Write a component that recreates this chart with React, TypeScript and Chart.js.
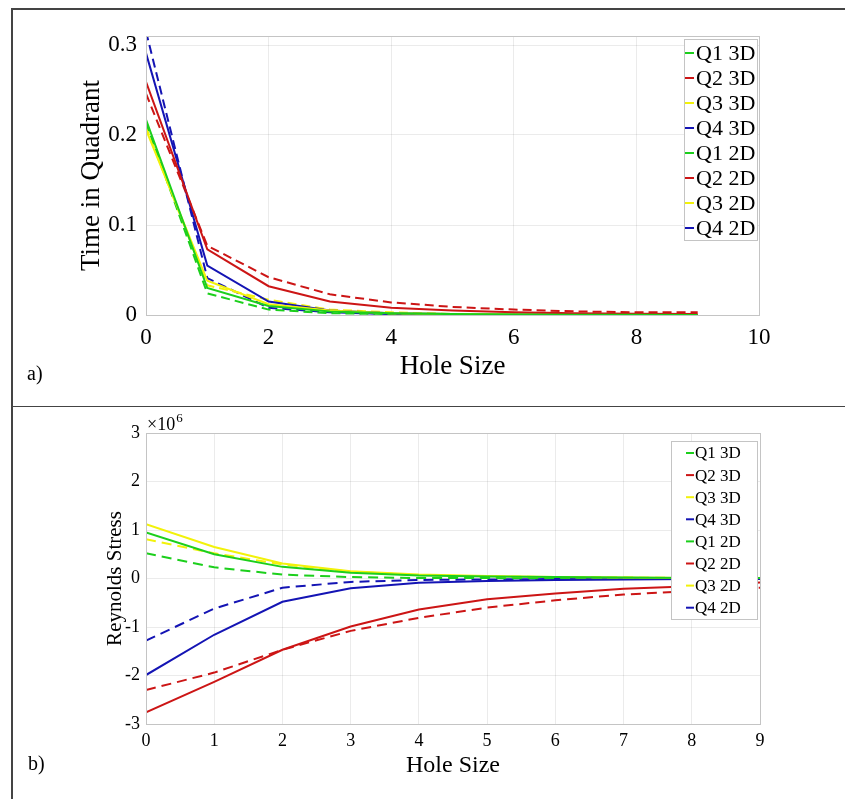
import React, { useEffect, useRef } from "react";
import { Chart, registerables } from "chart.js";

Chart.register(...registerables);

// ---------- data ----------
const holeSizes = [0, 1, 2, 3, 4, 5, 6, 7, 8, 9];
const seriesLabels = ["Q1 3D", "Q2 3D", "Q3 3D", "Q4 3D", "Q1 2D", "Q2 2D", "Q3 2D", "Q4 2D"];
const seriesColors = ["#1ccf1c", "#cc1515", "#f2f20a", "#1414b4", "#1ccf1c", "#cc1515", "#f2f20a", "#1414b4"];
const seriesDashed = [false, false, false, false, true, true, true, true];

// panel a) time in quadrant
const timeQ1_3D = [0.217, 0.030, 0.010, 0.004, 0.002, 0.001, 0.0005, 0.0003, 0.0002, 0.0001];
const timeQ2_3D = [0.259, 0.073, 0.032, 0.015, 0.008, 0.005, 0.003, 0.002, 0.0015, 0.001];
const timeQ3_3D = [0.206, 0.038, 0.012, 0.005, 0.002, 0.001, 0.0006, 0.0004, 0.0002, 0.0001];
const timeQ4_3D = [0.291, 0.055, 0.015, 0.005, 0.002, 0.001, 0.0005, 0.0003, 0.0002, 0.0001];
const timeQ1_2D = [0.214, 0.024, 0.006, 0.002, 0.001, 0.0005, 0.0003, 0.0002, 0.0001, 0.0001];
const timeQ2_2D = [0.246, 0.077, 0.042, 0.023, 0.014, 0.009, 0.006, 0.004, 0.003, 0.003];
const timeQ3_2D = [0.209, 0.033, 0.017, 0.006, 0.003, 0.001, 0.0006, 0.0004, 0.0002, 0.0001];
const timeQ4_2D = [0.315, 0.041, 0.008, 0.003, 0.001, 0.0005, 0.0003, 0.0002, 0.0001, 0.0001];

// panel b) Reynolds stress (x 10^6)
const stressQ1_3D = [0.95, 0.50, 0.24, 0.12, 0.06, 0.04, 0.03, 0.02, 0.01, 0.01];
const stressQ2_3D = [-2.76, -2.13, -1.47, -0.99, -0.64, -0.43, -0.31, -0.21, -0.16, -0.08];
const stressQ3_3D = [1.12, 0.65, 0.31, 0.15, 0.08, 0.05, 0.03, 0.02, 0.01, 0.01];
const stressQ4_3D = [-1.99, -1.16, -0.48, -0.20, -0.09, -0.05, -0.03, -0.02, -0.01, -0.01];
const stressQ1_2D = [0.52, 0.23, 0.08, 0.03, 0.01, 0.01, 0.0, 0.0, 0.0, 0.0];
const stressQ2_2D = [-2.30, -1.94, -1.47, -1.08, -0.81, -0.60, -0.45, -0.33, -0.26, -0.19];
const stressQ3_2D = [0.81, 0.52, 0.29, 0.14, 0.07, 0.04, 0.03, 0.02, 0.01, 0.01];
const stressQ4_2D = [-1.28, -0.62, -0.19, -0.07, -0.03, -0.02, -0.01, -0.01, 0.0, 0.0];

const timeSeries = [timeQ1_3D, timeQ2_3D, timeQ3_3D, timeQ4_3D, timeQ1_2D, timeQ2_2D, timeQ3_2D, timeQ4_2D];
const stressSeries = [stressQ1_3D, stressQ2_3D, stressQ3_3D, stressQ4_3D, stressQ1_2D, stressQ2_2D, stressQ3_2D, stressQ4_2D];

const FONT = "'Liberation Serif', 'Times New Roman', serif";

// ---------- plugins ----------
const boxLegendPlugin = {
  id: "boxLegend",
  afterDraw(chart: any, _args: any, opts: any) {
    const { ctx, chartArea } = chart;
    ctx.save();
    // axes box
    ctx.strokeStyle = "#c4c4c4";
    ctx.lineWidth = 1;
    ctx.strokeRect(chartArea.left + 0.5, chartArea.top + 0.5, chartArea.right - chartArea.left, chartArea.bottom - chartArea.top);

    // legend
    const L = opts.legend;
    if (L) {
      const bx = chartArea.right - L.right - L.width;
      const by = chartArea.top + L.top;
      ctx.fillStyle = "#ffffff";
      ctx.fillRect(bx, by, L.width, L.height);
      ctx.strokeStyle = "#c4c4c4";
      ctx.lineWidth = 1;
      ctx.strokeRect(bx + 0.5, by + 0.5, L.width, L.height);
      ctx.font = `${L.fontSize}px ${FONT}`;
      ctx.textBaseline = "middle";
      ctx.textAlign = "left";
      chart.data.datasets.forEach((ds: any, i: number) => {
        const cy = by + L.first + i * L.spacing;
        ctx.strokeStyle = ds.borderColor;
        ctx.lineWidth = 2;
        ctx.setLineDash([]);
        ctx.beginPath();
        ctx.moveTo(bx + L.sampleLeft, cy);
        ctx.lineTo(bx + L.sampleLeft + L.sampleLen, cy);
        ctx.stroke();
        ctx.fillStyle = "#000000";
        ctx.fillText(ds.label, bx + L.textLeft, cy + 1);
      });
    }

    // exponent
    if (opts.exponent) {
      ctx.fillStyle = "#000";
      ctx.textBaseline = "alphabetic";
      ctx.textAlign = "left";
      ctx.font = `18px ${FONT}`;
      const ex = chartArea.left + 1;
      const ey = chartArea.top - 3;
      ctx.fillText("\u00d710", ex, ey);
      const w = ctx.measureText("\u00d710").width;
      ctx.font = `13px ${FONT}`;
      ctx.fillText(opts.exponent, ex + w + 1, ey - 8);
    }

    // panel label
    if (opts.panel) {
      ctx.fillStyle = "#000";
      ctx.font = `20px ${FONT}`;
      ctx.textBaseline = "middle";
      ctx.textAlign = "left";
      ctx.fillText(opts.panel.text, opts.panel.x, opts.panel.y);
    }
    ctx.restore();
  },
};

function buildDatasets(series: number[][], dash: number[], width: number) {
  return series.map((vals, i) => ({
    label: seriesLabels[i],
    data: holeSizes.map((x, j) => ({ x, y: vals[j] })),
    borderColor: seriesColors[i],
    backgroundColor: seriesColors[i],
    borderWidth: width,
    borderDash: seriesDashed[i] ? dash : [],
    pointRadius: 0,
    tension: 0,
    fill: false,
  }));
}

const gridColor = "rgba(0,0,0,0.08)";

function TopChart() {
  const ref = useRef<HTMLCanvasElement>(null);
  useEffect(() => {
    const chart = new Chart(ref.current!, {
      type: "line",
      data: { datasets: buildDatasets(timeSeries, [9, 5], 2) as any },
      options: {
        animation: false,
        responsive: false,
        events: [],
        layout: { padding: { top: 36, right: 86, left: 0, bottom: 0 } },
        plugins: {
          legend: { display: false },
          tooltip: { enabled: false },
          boxLegend: {
            legend: { right: 2, top: 3, width: 73, height: 201, first: 14, spacing: 25, sampleLeft: 1, sampleLen: 9, textLeft: 12, fontSize: 22 },
            panel: { text: "a)", x: 27, y: 375 },
          },
        } as any,
        scales: {
          x: {
            type: "linear",
            min: 0,
            max: 10,
            afterFit: (s: any) => { s.height = 91; },
            ticks: { stepSize: 2, autoSkip: false, maxRotation: 0, padding: 9, color: "#000", font: { family: FONT, size: 23 }, includeBounds: false },
            grid: { color: gridColor, drawTicks: false },
            border: { display: false },
            title: { display: true, text: "Hole Size", color: "#000", font: { family: FONT, size: 27 }, padding: { top: 0, bottom: 23 } },
          },
          y: {
            type: "linear",
            min: 0,
            max: 0.31,
            afterFit: (s: any) => { s.width = 146; },
            ticks: { stepSize: 0.1, padding: 9, color: "#000", font: { family: FONT, size: 23 }, includeBounds: false },
            grid: { color: gridColor, drawTicks: false },
            border: { display: false },
            title: { display: true, text: "Time in Quadrant", color: "#000", font: { family: FONT, size: 27 }, padding: { top: 76, bottom: 0 } },
          },
        },
      },
      plugins: [boxLegendPlugin as any],
    });
    return () => chart.destroy();
  }, []);
  return <canvas ref={ref} width={845} height={406} style={{ position: "absolute", left: 0, top: 0, width: 845, height: 406 }} />;
}

function BottomChart() {
  const ref = useRef<HTMLCanvasElement>(null);
  useEffect(() => {
    const chart = new Chart(ref.current!, {
      type: "line",
      data: { datasets: buildDatasets(stressSeries, [10, 6], 2) as any },
      options: {
        animation: false,
        responsive: false,
        events: [],
        layout: { padding: { top: 27, right: 85, left: 0, bottom: 0 } },
        plugins: {
          legend: { display: false },
          tooltip: { enabled: false },
          boxLegend: {
            legend: { right: 3, top: 8, width: 86, height: 178, first: 12, spacing: 22.1, sampleLeft: 15, sampleLen: 8, textLeft: 24, fontSize: 17 },
            exponent: "6",
            panel: { text: "b)", x: 28, y: 359 },
          },
        } as any,
        scales: {
          x: {
            type: "linear",
            min: 0,
            max: 9,
            afterFit: (s: any) => { s.height = 75; },
            ticks: { stepSize: 1, autoSkip: false, maxRotation: 0, padding: 6, color: "#000", font: { family: FONT, size: 18 } },
            grid: { color: gridColor, drawTicks: false },
            border: { display: false },
            title: { display: true, text: "Hole Size", color: "#000", font: { family: FONT, size: 24 }, padding: { top: 0, bottom: 19 } },
          },
          y: {
            type: "linear",
            min: -3,
            max: 3,
            afterFit: (s: any) => { s.width = 146; },
            ticks: { stepSize: 1, padding: 6, color: "#000", font: { family: FONT, size: 18 } },
            grid: { color: gridColor, drawTicks: false },
            border: { display: false },
            title: { display: true, text: "Reynolds Stress", color: "#000", font: { family: FONT, size: 21 }, padding: { top: 103, bottom: 0 } },
          },
        },
      },
      plugins: [boxLegendPlugin as any],
    });
    return () => chart.destroy();
  }, []);
  return <canvas ref={ref} width={845} height={393} style={{ position: "absolute", left: 0, top: 406, width: 845, height: 393 }} />;
}

export default function App() {
  return (
    <div style={{ position: "absolute", left: 0, top: 0, width: 845, height: 799, background: "#fff", overflow: "hidden" }}>
      <TopChart />
      <BottomChart />
      <div style={{ position: "absolute", left: 11, top: 8, width: 834, height: 1.5, background: "#444" }} />
      <div style={{ position: "absolute", left: 11, top: 8, width: 1.5, height: 791, background: "#444" }} />
      <div style={{ position: "absolute", left: 11, top: 405.5, width: 834, height: 1.5, background: "#444" }} />
    </div>
  );
}
